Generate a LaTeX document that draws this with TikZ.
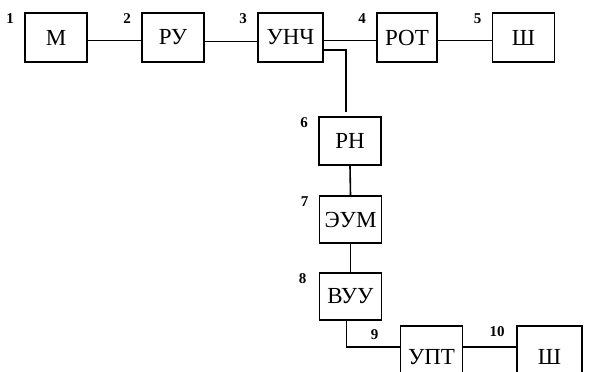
\documentclass[tikz,border=0pt]{standalone}
\usepackage{fontspec}
\setmainfont{Liberation Serif}
\tikzset{
        blk/.style={draw, line width=0.8pt, minimum width=31pt, minimum height=24.5pt, inner sep=0pt, font=\fontsize{11.5}{13}\selectfont},
        tall/.style={minimum height=31pt},
        lbl/.style={font=\fontsize{7.5}{9}\selectfont\bfseries, anchor=center, inner sep=0pt, xshift=-7pt, yshift=-3pt},
        wire/.style={line width=0.8pt}
}
\begin{document}
\begin{tikzpicture}[x=0.5pt, y=-0.5pt]
        \useasboundingbox (0,0) rectangle (589,371);
        \node (m) [blk, label={[lbl]north west:{1}}] at (56, 37.5) {М};
        \node (ru) [blk, label={[lbl]north west:{2}}] at (173, 37.5) {РУ};
        \node (unch) [blk, minimum width=32.5pt, label={[lbl]north west:{3}}] at (290.5, 37.5) {УНЧ};
        \node (rot) [blk, minimum width=30pt, label={[lbl]north west:{4}}] at (407, 37.5) {РОТ};
        \node (sh1) [blk, label={[lbl]north west:{5}}] at (523.5, 37.5) {Ш};
        \node (rn) [blk, minimum height=24pt, label={[lbl]north west:{6}}] at (350, 141) {РН};
        \node (eum) [blk, minimum height=23.5pt, label={[lbl]north west:{7}}] at (350.5, 219.5) {ЭУМ};
        \node (vuu) [blk, minimum height=23.5pt, label={[lbl,xshift=-1pt]north west:{8}}] at (350.5, 296.5) {ВУУ};
        \node (upt) [blk, tall, label={[lbl,xshift=-5.5pt,yshift=-1.5pt]north west:{9}}] at (431.5, 357) {УПТ};
        \node (sh2) [blk, tall, minimum width=32.5pt, label={[lbl,xshift=-2.5pt]north west:{10}}] at (549.5, 357) {Ш};
        \draw [wire] ([yshift=-1.5pt]m.east) -- ([yshift=-1.5pt]ru.west);
        \draw [wire] ([yshift=-2pt]ru.east) -- ([yshift=-2pt]unch.west);
        \draw [wire] ([yshift=-1.5pt]unch.east) -- ([yshift=-1.5pt]rot.west);
        \draw [wire] ([yshift=-1.5pt]rot.east) -- ([yshift=-1.5pt]sh1.west);
        \draw [wire] ([yshift=6.5pt]unch.south east) -| ([xshift=-2pt,yshift=2pt]rn.north);
        \draw [wire] (rn.south) -- (eum.north);
        \draw [wire] (eum.south) -- (vuu.north);
        \draw [wire] ([xshift=-2pt]vuu.south) |- ([yshift=5pt]upt.west);
        \draw [wire] ([yshift=5pt]upt.east) -- ([yshift=5pt]sh2.west);
\end{tikzpicture}
\end{document}
